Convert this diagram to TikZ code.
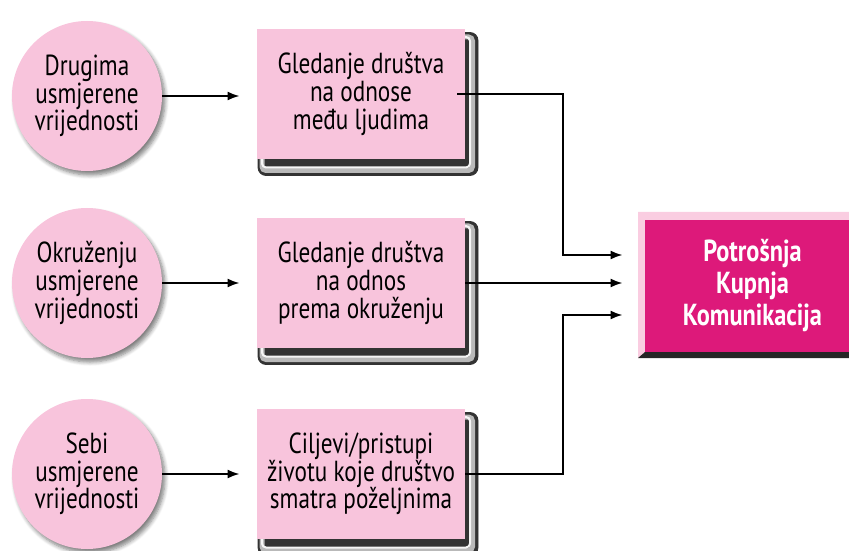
\documentclass[tikz,border=0pt]{standalone}
\usepackage{fontspec}
\setmainfont{PT Sans}[FakeStretch=0.8]
\usetikzlibrary{arrows.meta,shadows.blur}
\definecolor{rosa}{RGB}{248,196,220}
\definecolor{bevel}{RGB}{250,205,225}
\definecolor{magenta}{RGB}{221,25,122}
\begin{document}
\begin{tikzpicture}[x=0.5pt,y=-0.5pt,
  val/.style={circle,fill=rosa,minimum size=75pt,inner sep=0pt,align=center,
    font=\fontsize{14.5}{13.8}\selectfont,
    blur shadow={shadow xshift=1.5pt,shadow yshift=-2pt,shadow blur steps=6,shadow opacity=50}},
  view/.style={fill=rosa,minimum width=104pt,minimum height=65pt,inner sep=0pt,align=center,
    font=\fontsize{14.5}{13.8}\selectfont},
  pot/.style={fill=magenta,text=white,minimum width=107.5pt,minimum height=66pt,inner sep=0pt,
    align=center,font=\fontsize{15.2}{16}\selectfont\bfseries},
  arr/.style={-{Latex[length=6pt,width=4.5pt]},line width=1pt}]
\useasboundingbox(0,0)rectangle(849,550);
% okviri iza kutija
\foreach \y in {94,283,474}{
  \filldraw[black!80,rounded corners=4pt](258,\y-61.5)rectangle(478,\y+81.5);
  \draw[gray!55,line width=2.5pt,rounded corners=2pt](262,\y-57)rectangle(472.5,\y+76.5);
  \draw[gray!8,line width=1pt,rounded corners=2pt](262,\y-57)rectangle(470,\y+73.5);
}
%
\node[val](dru)at(87,96){Drugima\\usmjerene\\vrijednosti};
\node[val](okr)at(87,283){Okruženju\\usmjerene\\vrijednosti};
\node[val](seb)at(87,474){Sebi\\usmjerene\\vrijednosti};
\node[view](b1)at(361,94){Gledanje društva\\na odnose\\među ljudima};
\node[view](b2)at(361,283){Gledanje društva\\na odnos\\prema okruženju};
\node[view](b3)at(361,474){Ciljevi/pristupi\\životu koje društvo\\smatra poželjnima};
%
\fill[bevel](638,212)--(860,212)--(860,220)--(645,220)--(645,352)--(638,358)--cycle;
\fill[black!85](638,358)--(645,352)--(860,352)--(860,358)--cycle;
\node[pot](pot)at(752.5,286){Potrošnja\\Kupnja\\Komunikacija};
%
\foreach \a/\b in {dru/b1,okr/b2,seb/b3}{\draw[arr,shorten >=8.5pt](\a.east)--(\a.east-|\b.west);}
\draw[arr,shorten >=11pt]([xshift=-4pt]b1.east)--++(106,0)|-([yshift=15.5pt]pot.west);
\draw[arr,shorten >=11pt](b2.east)--(b2.east-|pot.west);
\draw[arr,shorten >=11pt](b3.east)--++(98,0)|-([yshift=-14.5pt]pot.west);
\end{tikzpicture}
\end{document}
